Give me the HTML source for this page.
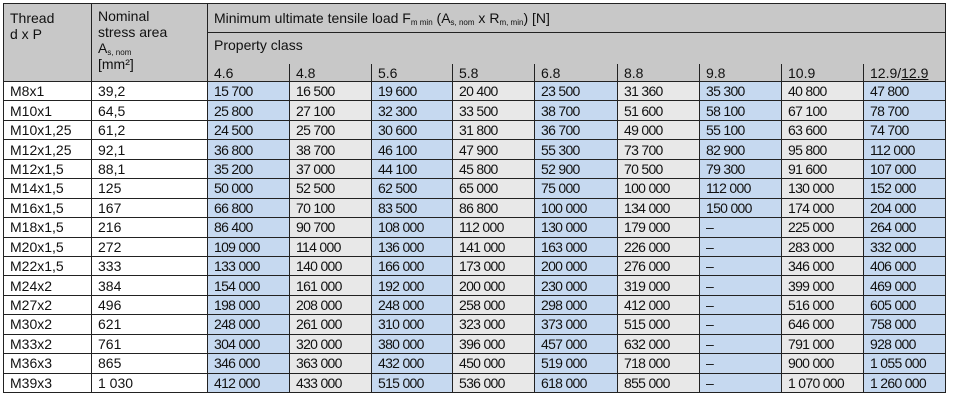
<!DOCTYPE html>
<html><head><meta charset="utf-8"><style>
body{margin:0;background:#fff;width:954px;height:401px;overflow:hidden;font-family:"Liberation Sans",Arial,sans-serif;font-size:14px;color:#111}
table{position:absolute;left:3px;top:3px;border-collapse:collapse;table-layout:fixed}
td{box-sizing:border-box;border:1px solid #222;padding:0 0 0 6px;white-space:nowrap;vertical-align:middle;line-height:15px;overflow:hidden}
.h td{background:#c8c8c8;vertical-align:top}
sub{font-size:8px;vertical-align:-2px;line-height:0}
tr.d td{height:19.44px;padding-top:1px}
.b{background:#c6d9f0}.g{background:#e8e8e8}
td.n{letter-spacing:-0.7px}
</style></head><body>
<table>
<colgroup><col style="width:88px"><col style="width:116px"><col style="width:82px"><col style="width:82px"><col style="width:81px"><col style="width:82px"><col style="width:83px"><col style="width:82px"><col style="width:82px"><col style="width:82px"><col style="width:82px"></colgroup>
<tr class="h" style="height:29px"><td rowspan="3" style="padding-top:6px;line-height:16px">Thread<br>d x P</td><td rowspan="3" style="padding-top:4px;line-height:16px">Nominal<br>stress area<br>A<sub>s, nom</sub><br>[mm²]</td><td colspan="9" style="height:29px;padding-top:7px">Minimum ultimate tensile load F<sub>m min</sub> (A<sub>s, nom</sub> x R<sub>m, min</sub>) [N]</td></tr>
<tr class="h" style="height:31px"><td colspan="9" style="height:31px;border-bottom:none;padding-top:5px">Property class</td></tr>
<tr class="h" style="height:18px"><td style="border-top:none;height:18px;padding-top:2px">4.6</td><td style="border-top:none;padding-top:2px">4.8</td><td style="border-top:none;padding-top:2px">5.6</td><td style="border-top:none;padding-top:2px">5.8</td><td style="border-top:none;padding-top:2px">6.8</td><td style="border-top:none;padding-top:2px">8.8</td><td style="border-top:none;padding-top:2px">9.8</td><td style="border-top:none;padding-top:2px">10.9</td><td style="border-top:none;padding-top:2px">12.9/<u>12.9</u></td></tr>
<tr class="d"><td>M8x1</td><td>39,2</td><td class="b n">15 700</td><td class="g n">16 500</td><td class="b n">19 600</td><td class="g n">20 400</td><td class="b n">23 500</td><td class="g n">31 360</td><td class="b n">35 300</td><td class="g n">40 800</td><td class="b n">47 800</td></tr>
<tr class="d"><td>M10x1</td><td>64,5</td><td class="b n">25 800</td><td class="g n">27 100</td><td class="b n">32 300</td><td class="g n">33 500</td><td class="b n">38 700</td><td class="g n">51 600</td><td class="b n">58 100</td><td class="g n">67 100</td><td class="b n">78 700</td></tr>
<tr class="d"><td>M10x1,25</td><td>61,2</td><td class="b n">24 500</td><td class="g n">25 700</td><td class="b n">30 600</td><td class="g n">31 800</td><td class="b n">36 700</td><td class="g n">49 000</td><td class="b n">55 100</td><td class="g n">63 600</td><td class="b n">74 700</td></tr>
<tr class="d"><td>M12x1,25</td><td>92,1</td><td class="b n">36 800</td><td class="g n">38 700</td><td class="b n">46 100</td><td class="g n">47 900</td><td class="b n">55 300</td><td class="g n">73 700</td><td class="b n">82 900</td><td class="g n">95 800</td><td class="b n">112 000</td></tr>
<tr class="d"><td>M12x1,5</td><td>88,1</td><td class="b n">35 200</td><td class="g n">37 000</td><td class="b n">44 100</td><td class="g n">45 800</td><td class="b n">52 900</td><td class="g n">70 500</td><td class="b n">79 300</td><td class="g n">91 600</td><td class="b n">107 000</td></tr>
<tr class="d"><td>M14x1,5</td><td>125</td><td class="b n">50 000</td><td class="g n">52 500</td><td class="b n">62 500</td><td class="g n">65 000</td><td class="b n">75 000</td><td class="g n">100 000</td><td class="b n">112 000</td><td class="g n">130 000</td><td class="b n">152 000</td></tr>
<tr class="d"><td>M16x1,5</td><td>167</td><td class="b n">66 800</td><td class="g n">70 100</td><td class="b n">83 500</td><td class="g n">86 800</td><td class="b n">100 000</td><td class="g n">134 000</td><td class="b n">150 000</td><td class="g n">174 000</td><td class="b n">204 000</td></tr>
<tr class="d"><td>M18x1,5</td><td>216</td><td class="b n">86 400</td><td class="g n">90 700</td><td class="b n">108 000</td><td class="g n">112 000</td><td class="b n">130 000</td><td class="g n">179 000</td><td class="b n">–</td><td class="g n">225 000</td><td class="b n">264 000</td></tr>
<tr class="d"><td>M20x1,5</td><td>272</td><td class="b n">109 000</td><td class="g n">114 000</td><td class="b n">136 000</td><td class="g n">141 000</td><td class="b n">163 000</td><td class="g n">226 000</td><td class="b n">–</td><td class="g n">283 000</td><td class="b n">332 000</td></tr>
<tr class="d"><td>M22x1,5</td><td>333</td><td class="b n">133 000</td><td class="g n">140 000</td><td class="b n">166 000</td><td class="g n">173 000</td><td class="b n">200 000</td><td class="g n">276 000</td><td class="b n">–</td><td class="g n">346 000</td><td class="b n">406 000</td></tr>
<tr class="d"><td>M24x2</td><td>384</td><td class="b n">154 000</td><td class="g n">161 000</td><td class="b n">192 000</td><td class="g n">200 000</td><td class="b n">230 000</td><td class="g n">319 000</td><td class="b n">–</td><td class="g n">399 000</td><td class="b n">469 000</td></tr>
<tr class="d"><td>M27x2</td><td>496</td><td class="b n">198 000</td><td class="g n">208 000</td><td class="b n">248 000</td><td class="g n">258 000</td><td class="b n">298 000</td><td class="g n">412 000</td><td class="b n">–</td><td class="g n">516 000</td><td class="b n">605 000</td></tr>
<tr class="d"><td>M30x2</td><td>621</td><td class="b n">248 000</td><td class="g n">261 000</td><td class="b n">310 000</td><td class="g n">323 000</td><td class="b n">373 000</td><td class="g n">515 000</td><td class="b n">–</td><td class="g n">646 000</td><td class="b n">758 000</td></tr>
<tr class="d"><td>M33x2</td><td>761</td><td class="b n">304 000</td><td class="g n">320 000</td><td class="b n">380 000</td><td class="g n">396 000</td><td class="b n">457 000</td><td class="g n">632 000</td><td class="b n">–</td><td class="g n">791 000</td><td class="b n">928 000</td></tr>
<tr class="d"><td>M36x3</td><td>865</td><td class="b n">346 000</td><td class="g n">363 000</td><td class="b n">432 000</td><td class="g n">450 000</td><td class="b n">519 000</td><td class="g n">718 000</td><td class="b n">–</td><td class="g n">900 000</td><td class="b n">1 055 000</td></tr>
<tr class="d"><td>M39x3</td><td>1 030</td><td class="b n">412 000</td><td class="g n">433 000</td><td class="b n">515 000</td><td class="g n">536 000</td><td class="b n">618 000</td><td class="g n">855 000</td><td class="b n">–</td><td class="g n">1 070 000</td><td class="b n">1 260 000</td></tr>
</table>
</body></html>
